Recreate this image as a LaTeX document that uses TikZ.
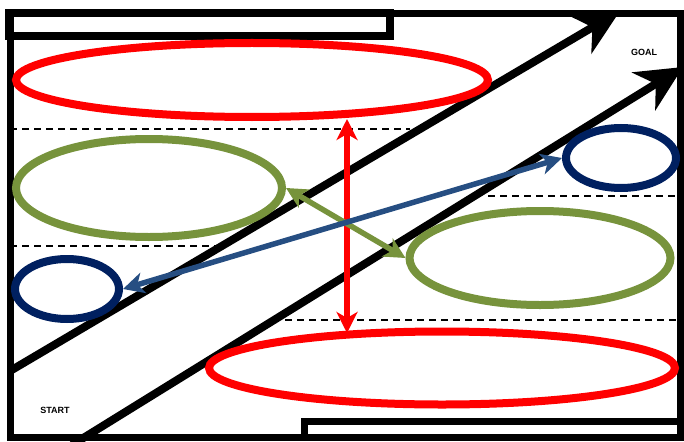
\documentclass[tikz,border=0pt]{standalone}
\usepackage{fontspec}
\setmainfont{Liberation Sans}
\usetikzlibrary{shapes.geometric,arrows.meta}
\definecolor{myred}{HTML}{FF0000}
\definecolor{mygreen}{HTML}{77933C}
\definecolor{mynavy}{HTML}{002060}
\definecolor{myblue}{HTML}{264E82}
\tikzset{
  oval/.style={ellipse, draw, line width=8pt, inner sep=0pt},
  frameline/.style={line width=7pt, draw=black},
  sep/.style={dash pattern=on 7pt off 5pt, line width=1.6pt},
  bigarrow/.style={line width=8pt, -{Stealth[length=46pt 0 0,width=44pt 0,inset=14pt 0]}},
  dbl/.style={line width=5.5pt, {Stealth[length=21pt 0 0,width=21pt 0,inset=6pt 0]}-{Stealth[length=21pt 0 0,width=21pt 0,inset=6pt 0]}},
  lbl/.style={font=\fontsize{9}{10}\selectfont\bfseries, inner sep=0pt}
}
\begin{document}
\begin{tikzpicture}[x=1pt,y=-1pt]
\useasboundingbox (0,0) rectangle (684,441);
% frame
\draw[frameline] (10,14) rectangle (680,437);
\draw[line width=8pt] (9,13) rectangle (390,36);
\draw[line width=7pt] (304,421) rectangle (680,437);
% dashed separators
\draw[sep] (10,129) -- (410,129);
\draw[sep] (488,196) -- (680,196);
\draw[sep] (10,246) -- (215,246);
\draw[sep] (285,320) -- (680,320);
% diagonal paths
\coordinate (l1s) at (10,371);
\coordinate (l1e) at (620,11);
\coordinate (l2s) at (72,445);
\coordinate (l2e) at (683,67);
\draw[bigarrow] (l1s) -- (l1e);
\draw[bigarrow] (l2s) -- (l2e);
% ellipses
\node[oval, draw=myred, minimum width=472pt, minimum height=74pt] (redT) at (252,80) {};
\node[oval, draw=myred, minimum width=466pt, minimum height=73pt] (redB) at (442,368) {};
\node[oval, draw=mygreen, minimum width=266pt, minimum height=98pt] (grnL) at (149,188) {};
\node[oval, draw=mygreen, minimum width=261pt, minimum height=94pt] (grnR) at (540,258) {};
\node[oval, draw=mynavy, minimum width=104pt, minimum height=60pt] (bluL) at (67,289) {};
\node[oval, draw=mynavy, minimum width=110pt, minimum height=60pt] (bluR) at (621,158) {};
% double arrows
\coordinate (rA) at (347,119);
\coordinate (rB) at (347,333);
\draw[dbl, draw=myred, fill=myred] (rA) -- (rB);
\draw[dbl, draw=mygreen, fill=mygreen] (grnL.east) -- (grnR.west);
\draw[dbl, draw=myblue, fill=myblue] (bluL.east) -- (bluR.west);
% labels
\node[lbl] (goal) at (644,52) {GOAL};
\node[lbl] (start) at (55,410) {START};
\end{tikzpicture}
\end{document}
